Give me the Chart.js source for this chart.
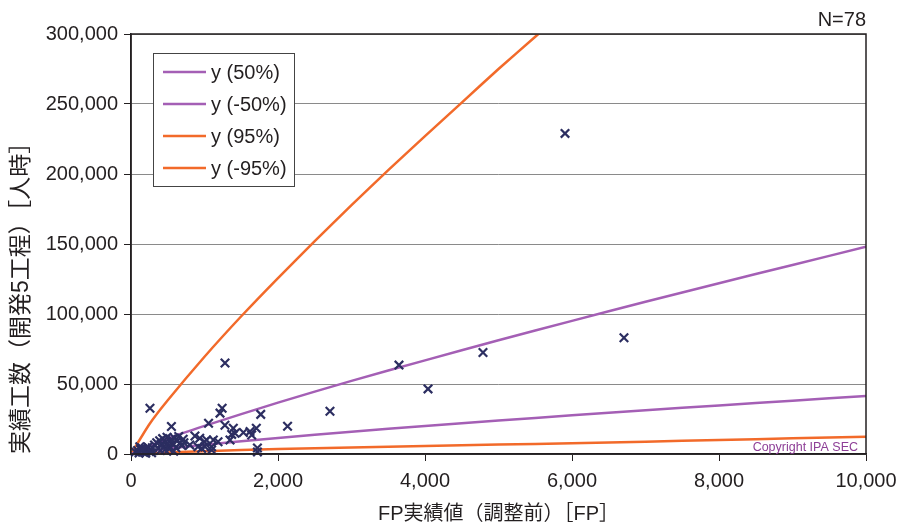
<!DOCTYPE html>
<html>
<head>
<meta charset="utf-8">
<script src="https://cdn.jsdelivr.net/npm/chart.js@4/dist/chart.umd.min.js"></script>
<style>
  html, body { margin: 0; padding: 0; background: #ffffff; }
  #wrap { width: 899px; height: 524px; position: relative; }
</style>
</head>
<body>
<div id="wrap"><canvas id="c" width="899" height="524"></canvas></div>
<script>
// ---- Data ----
const fpActual = [
  5905, 6707, 4789, 3646, 4041, 2707, 2130, 1279, 258, 1765,
  1720, 1720, 1240, 1211, 1055, 1278, 1392, 1415, 1370, 1529,
  1619, 1705, 1642, 550, 870, 935, 1000, 1029, 1120, 1097,
  1007, 961, 1347, 1184, 911, 1097,
  60, 90, 110, 130, 150, 170, 190, 210, 230, 250, 270, 290, 120, 200, 280, 160,
  320, 350, 370, 390, 410, 430, 450, 470, 490, 510, 530, 550, 570, 590, 610, 630,
  650, 670, 690, 710, 400, 460, 520, 580, 720, 800
];
const effortActual = [
  229000, 83000, 72500, 63500, 46500, 30500, 19800, 65000, 32700, 28300,
  4300, 1500, 32700, 29200, 22000, 20500, 18400, 14800, 14000, 15300,
  16000, 18400, 13600, 19600, 12800, 11200, 8800, 10000, 10000, 5200,
  5200, 4000, 10000, 8800, 5200, 2900,
  1500, 2500, 800, 3200, 4200, 1200, 2000, 3500, 5000, 1800, 2800, 4500, 5200, 600, 900, 3000,
  6500, 8000, 4000, 9500, 7000, 11000, 5500, 8500, 12000, 6000, 9000, 10500, 7500, 11500, 4500, 9500,
  12500, 8000, 6000, 10500, 2500, 3000, 3500, 2000, 8000, 6500
];

const bandX   = [0, 500, 1000, 2000, 3000, 4000, 5000, 6000, 7000, 8000, 9000, 10000];
const plus50  = [0, 11100, 20100, 36700, 52200, 66900, 81200, 95100, 108700, 122000, 135000, 148000];
const minus50 = [0, 3800, 6600, 11500, 15900, 20000, 23900, 27600, 31200, 34700, 38100, 41500];
const minus95 = [0, 1100, 2000, 3500, 4700, 5800, 6800, 7600, 8800, 10000, 11200, 12400];
const plus95X = [0, 250, 500, 1000, 1500, 2000, 2500, 3000, 3500, 4000, 4500, 5000, 5500, 6000];
const plus95  = [0, 21300, 38400, 69500, 98400, 125700, 152000, 177800, 202800, 227000, 251000, 275000, 298000, 321000];

const seriesLabels = ['y (50%)', 'y (-50%)', 'y (95%)', 'y (-95%)'];
const xTitle = 'FP実績値（調整前）［FP］';
const yTitle = '実績工数（開発5工程）［人時］';
const countLabel = 'N=78';
const copyrightText = 'Copyright IPA SEC';

const xMin = 0, xMax = 10000, xStep = 2000;
const yMin = 0, yMax = 300000, yStep = 50000;

// ---- Styling ----
const FONT = '"Liberation Sans", Arial, "Noto Sans CJK JP", sans-serif';
const PURPLE = '#a45fb5';
const ORANGE = '#f26a2a';
const MARK = '#2c2e61';
const TEXT = '#231f20';

const pairs = (xs, ys) => xs.map((x, i) => ({ x: x, y: ys[i] }));

const frameAndLegend = {
  id: 'frameAndLegend',
  afterDatasetsDraw(chart) {
    const ctx = chart.ctx;
    const a = chart.chartArea;
    ctx.save();
    // frame
    ctx.strokeStyle = '#231f20';
    ctx.lineWidth = 1.5;
    ctx.strokeRect(a.left, a.top, a.right - a.left, a.bottom - a.top);

    // legend box
    const bx = a.left + 22, by = a.top + 19, bw = 141, bh = 133;
    ctx.fillStyle = '#ffffff';
    ctx.fillRect(bx, by, bw, bh);
    ctx.strokeStyle = '#444444';
    ctx.lineWidth = 1;
    ctx.strokeRect(bx + 0.5, by + 0.5, bw, bh);
    const rows = [1, 2, 3, 4]; // dataset indices of the band lines
    ctx.font = '20px ' + FONT;
    ctx.textBaseline = 'middle';
    ctx.textAlign = 'left';
    rows.forEach((di, i) => {
      const ds = chart.data.datasets[di];
      const y = by + 19 + i * 32;
      ctx.strokeStyle = ds.borderColor;
      ctx.lineWidth = 2.5;
      ctx.beginPath();
      ctx.moveTo(bx + 10, y);
      ctx.lineTo(bx + 53, y);
      ctx.stroke();
      ctx.fillStyle = TEXT;
      ctx.fillText(ds.label, bx + 58, y + 1);
    });

    // copyright
    ctx.font = '12.5px ' + FONT;
    ctx.fillStyle = '#8e3f97';
    ctx.textAlign = 'right';
    ctx.textBaseline = 'alphabetic';
    ctx.fillText(copyrightText, a.right - 8, a.bottom - 3);
    ctx.restore();
  }
};

new Chart(document.getElementById('c'), {
  type: 'scatter',
  data: {
    datasets: [
      {
        label: 'actual',
        data: pairs(fpActual, effortActual),
        pointStyle: 'crossRot',
        pointRadius: 6,
        pointHoverRadius: 6,
        borderColor: MARK,
        backgroundColor: MARK,
        pointBorderWidth: 2.2,
        showLine: false,
        clip: false,
        order: 0
      },
      {
        label: seriesLabels[0],
        data: pairs(bandX, plus50),
        showLine: true, borderColor: PURPLE, borderWidth: 2.5, pointRadius: 0, tension: 0.3, order: 1
      },
      {
        label: seriesLabels[1],
        data: pairs(bandX, minus50),
        showLine: true, borderColor: PURPLE, borderWidth: 2.5, pointRadius: 0, tension: 0.3, order: 1
      },
      {
        label: seriesLabels[2],
        data: pairs(plus95X, plus95),
        showLine: true, borderColor: ORANGE, borderWidth: 2.5, pointRadius: 0, tension: 0.2, order: 1
      },
      {
        label: seriesLabels[3],
        data: pairs(bandX, minus95),
        showLine: true, borderColor: ORANGE, borderWidth: 2.5, pointRadius: 0, tension: 0.3, order: 1
      }
    ]
  },
  options: {
    responsive: false,
    animation: false,
    events: [],
    layout: { padding: { left: 0, right: 33, top: 0, bottom: 0 } },
    plugins: {
      legend: { display: false },
      tooltip: { enabled: false },
      title: {
        display: true,
        text: countLabel,
        align: 'end',
        color: TEXT,
        font: { family: FONT, size: 20, weight: 'normal' },
        padding: { top: 8, bottom: 2 }
      }
    },
    scales: {
      x: {
        type: 'linear',
        min: xMin, max: xMax,
        ticks: {
          stepSize: xStep,
          color: TEXT,
          padding: 8,
          maxRotation: 0,
          font: { family: FONT, size: 20 }
        },
        grid: { drawOnChartArea: false, drawTicks: true, tickLength: 7, tickColor: '#231f20' },
        border: { display: true, color: '#231f20', width: 1.5 },
        title: {
          display: true,
          text: xTitle,
          color: TEXT,
          font: { family: FONT, size: 20 },
          padding: { top: 0, bottom: -2 }
        },
        afterFit(scale) { scale.paddingLeft = 0; scale.paddingRight = 0; scale.height = 70; }
      },
      y: {
        type: 'linear',
        min: yMin, max: yMax,
        ticks: {
          stepSize: yStep,
          color: TEXT,
          padding: 6,
          font: { family: FONT, size: 20 }
        },
        grid: { color: '#8a8a8a', lineWidth: 1, drawTicks: true, tickLength: 7, tickColor: '#231f20' },
        border: { display: true, color: '#231f20', width: 1.5 },
        title: {
          display: true,
          text: yTitle,
          align: 'start',
          color: TEXT,
          font: { family: FONT, size: 23 },
          padding: { top: 8, bottom: 0 }
        },
        afterFit(scale) { scale.width = 131; scale.paddingTop = 0; scale.paddingBottom = 0; }
      }
    }
  },
  plugins: [frameAndLegend]
});
</script>
</body>
</html>
